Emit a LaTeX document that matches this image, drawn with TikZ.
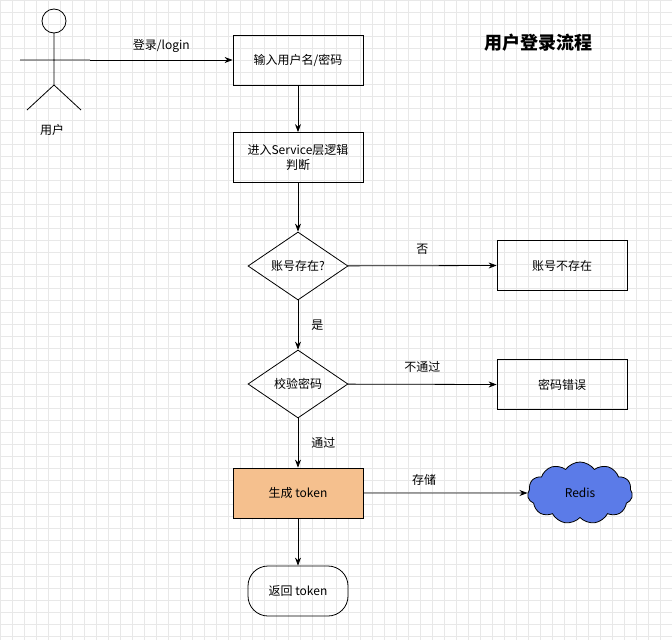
\documentclass[tikz,border=0pt]{standalone}
\usepackage{fontspec}
\setmainfont{Noto Sans CJK SC}
\usetikzlibrary{arrows.meta,shapes.geometric,shapes.symbols}
\definecolor{gridc}{RGB}{232,232,232}
\definecolor{tok}{RGB}{245,192,142}
\definecolor{redis}{RGB}{91,123,232}
\begin{document}
\begin{tikzpicture}[x=1pt,y=-1pt,
  every node/.style={font=\fontsize{12}{15}\selectfont},
  box/.style={draw,line width=0.8pt,minimum width=130pt,minimum height=50pt,align=center,inner sep=2pt},
  dia/.style={draw,line width=0.8pt,diamond,aspect=1.47,minimum width=100pt,minimum height=68pt,inner sep=0pt},
  arr/.style={-{Stealth[length=8pt,width=6pt]},line width=0.8pt},
  lbl/.style={inner sep=1pt}]
\useasboundingbox (0,0) rectangle (672,640);
\fill[white] (0,0) rectangle (672,640);
\foreach \i in {0,12,...,672} \draw[gridc,line width=0.4pt] (\i,0) -- (\i,640);
\foreach \j in {0,12,...,640} \draw[gridc,line width=0.4pt] (0,\j) -- (672,\j);
% actor
\draw[line width=0.8pt] (54,21) circle (12);
\coordinate (neck) at (54,33); \coordinate (hip) at (54,85);
\coordinate (al) at (20,60); \coordinate (ar) at (90,60);
\coordinate (ll) at (27,110); \coordinate (lr) at (81,110);
\draw[line width=0.8pt] (neck) -- (hip) (al) -- (ar) (hip) -- (ll) (hip) -- (lr);
\node[lbl] (user) at (52,130) {用户};
\node[box] (b1) at (298,60) {输入用户名/密码};
\node[box] (b2) at (298,157.5) {进入Service层逻辑\\判断};
\node[dia] (d1) at (298,266) {账号存在?};
\node[box] (n1) at (562,265.5) {账号不存在};
\node[dia] (d2) at (298,384) {校验密码};
\node[box] (n2) at (562,384.5) {密码错误};
\node[box,fill=tok] (b3) at (298,493) {生成 token};
\node[draw,line width=0.8pt,cloud,cloud puffs=11,cloud puff arc=110,aspect=1.7,fill=redis,minimum width=105pt,minimum height=62pt] (redis) at (580,493) {Redis};
\node[draw,line width=0.8pt,rounded corners=20pt,minimum width=100pt,minimum height=50pt] (ret) at (298,591) {返回 token};
\node[font=\fontsize{18}{20}\selectfont\bfseries] (title) at (538,43) {用户登录流程};
\draw[arr] (ar) -- node[lbl,above=6pt] {登录/login} (b1.west);
\draw[arr] (b1) -- (b2);
\draw[arr] (b2) -- (d1);
\draw[arr] (d1) -- node[lbl,above=10pt,pos=0.5] {否} (n1.west);
\draw[arr] (d1) -- node[lbl,right=12pt] {是} (d2);
\draw[arr] (d2) -- node[lbl,above=10pt] {不通过} (n2.west);
\draw[arr] (d2) -- node[lbl,right=12pt] {通过} (b3);
\draw[arr] (b3) -- node[lbl,above=6pt,pos=0.37] {存储} (redis.west);
\draw[arr] (b3) -- (ret);
\end{tikzpicture}
\end{document}
